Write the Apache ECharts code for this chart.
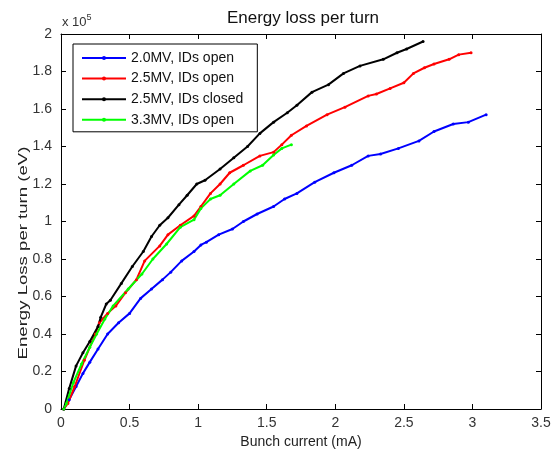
<!DOCTYPE html>
<html><head><meta charset="utf-8">
<script src="https://cdn.jsdelivr.net/npm/echarts@6/dist/echarts.min.js"></script>
<style>html,body{margin:0;padding:0;background:#fff}#c{width:557px;height:454px}</style>
</head><body><div id="c"></div>
<script>
// Values: x = bunch current (mA), y = energy loss per turn (x 1e5 eV)
const seriesNames = ["2.0MV, IDs open", "2.5MV, IDs open", "2.5MV, IDs closed", "3.3MV, IDs open"];
const blue20open = [[0.02,0],[0.06,0.05],[0.11,0.12],[0.16,0.19],[0.21,0.25],[0.27,0.32],[0.34,0.40],[0.42,0.46],[0.50,0.51],[0.58,0.59],[0.66,0.64],[0.74,0.69],[0.80,0.73],[0.88,0.79],[0.97,0.84],[1.02,0.875],[1.06,0.89],[1.15,0.93],[1.25,0.96],[1.33,1.00],[1.43,1.04],[1.55,1.08],[1.63,1.12],[1.72,1.15],[1.85,1.21],[1.99,1.26],[2.12,1.30],[2.24,1.35],[2.33,1.36],[2.46,1.39],[2.61,1.43],[2.72,1.48],[2.86,1.52],[2.97,1.53],[3.10,1.57]];
const red25open = [[0.02,0],[0.05,0.03],[0.10,0.12],[0.17,0.26],[0.25,0.40],[0.28,0.46],[0.34,0.51],[0.40,0.55],[0.47,0.62],[0.55,0.69],[0.61,0.79],[0.72,0.87],[0.78,0.93],[0.87,0.98],[0.97,1.03],[1.02,1.08],[1.09,1.15],[1.16,1.20],[1.23,1.26],[1.33,1.30],[1.45,1.35],[1.55,1.37],[1.61,1.41],[1.68,1.46],[1.79,1.51],[1.94,1.57],[2.07,1.61],[2.24,1.67],[2.30,1.68],[2.40,1.71],[2.50,1.74],[2.57,1.79],[2.65,1.82],[2.72,1.84],[2.83,1.865],[2.90,1.89],[2.99,1.90]];
const black25closed = [[0.02,0],[0.06,0.11],[0.11,0.23],[0.16,0.30],[0.21,0.36],[0.27,0.44],[0.29,0.49],[0.33,0.56],[0.36,0.58],[0.44,0.67],[0.52,0.76],[0.60,0.84],[0.66,0.92],[0.72,0.98],[0.78,1.02],[0.86,1.09],[0.92,1.14],[0.99,1.20],[1.05,1.22],[1.16,1.28],[1.26,1.34],[1.36,1.40],[1.45,1.47],[1.55,1.53],[1.65,1.58],[1.72,1.62],[1.83,1.69],[1.95,1.73],[2.06,1.79],[2.18,1.83],[2.35,1.865],[2.45,1.90],[2.52,1.92],[2.64,1.96]];
const green33open = [[0.02,0],[0.04,0.03],[0.09,0.14],[0.15,0.24],[0.21,0.33],[0.26,0.40],[0.32,0.48],[0.38,0.55],[0.49,0.64],[0.59,0.72],[0.67,0.80],[0.77,0.88],[0.87,0.97],[0.97,1.01],[1.02,1.07],[1.09,1.12],[1.16,1.14],[1.26,1.20],[1.38,1.27],[1.47,1.30],[1.55,1.355],[1.61,1.39],[1.68,1.41]];
const seriesColors = ["#0000ff", "#ff0000", "#000000", "#00ff00"];
const seriesData = [blue20open, red25open, black25closed, green33open];

const chart = echarts.init(document.getElementById('c'), null, {renderer: 'canvas'});
const font = 'Liberation Sans, Arial, sans-serif';
function axisCommon() {
  return {
    axisLine: {show: true, onZero: false, lineStyle: {color: '#000', width: 1}},
    axisTick: {show: true, inside: true, length: 5, lineStyle: {color: '#000'}},
    splitLine: {show: false}
  };
}
chart.setOption({
  animation: false,
  backgroundColor: '#fff',
  title: {text: 'Energy loss per turn', left: 298, textAlign: 'center', top: 5,
    textStyle: {fontFamily: font, fontSize: 17, fontWeight: 'normal', color: '#111'}},
  grid: {left: 61, right: 16, top: 34, bottom: 45},
  legend: {
    left: 73, top: 44, orient: 'vertical', itemWidth: 44, itemHeight: 5, itemGap: 4.6,
    padding: [6, 14, 4, 8], backgroundColor: '#fff', borderColor: '#000', borderWidth: 1,
    textStyle: {fontFamily: font, fontSize: 14, lineHeight: 16, color: '#111'},
    data: seriesNames
  },
  xAxis: [
    Object.assign({type: 'value', min: 0, max: 3.5, interval: 0.5, position: 'bottom',
      name: 'Bunch current (mA)', nameLocation: 'middle', nameGap: 26,
      nameTextStyle: {fontFamily: font, fontSize: 14, color: '#222'},
      axisLabel: {fontFamily: font, fontSize: 14, color: '#333', margin: 7}}, axisCommon()),
    Object.assign({type: 'value', min: 0, max: 3.5, interval: 0.5, position: 'top',
      axisLabel: {show: false}}, axisCommon())
  ],
  yAxis: [
    Object.assign({type: 'value', min: 0, max: 2, interval: 0.2, position: 'left',
      axisLabel: {fontFamily: font, fontSize: 14, color: '#333', margin: 9}}, axisCommon()),
    Object.assign({type: 'value', min: 0, max: 2, interval: 0.2, position: 'right',
      axisLabel: {show: false}}, axisCommon())
  ],
  graphic: [{
    type: 'text', left: 62, top: 13,
    style: {text: '{a|x 10}{b|5}', rich: {
      a: {fontFamily: font, fontSize: 13, fill: '#333'},
      b: {fontFamily: font, fontSize: 9, fill: '#333', verticalAlign: 'top', padding: [0, 0, 9, 0]}
    }}
  }, {
    type: 'text', x: 23, y: 253, rotation: Math.PI / 2, scaleX: 1.43, scaleY: 1,
    style: {text: 'Energy Loss per turn (eV)', fontFamily: font, fontSize: 13, fill: '#222',
      align: 'center', verticalAlign: 'middle'}
  }],
  series: seriesData.map((d, i) => ({
    name: seriesNames[i], type: 'line', data: d, xAxisIndex: 0, yAxisIndex: 0,
    symbol: 'circle', symbolSize: 3, showSymbol: true,
    lineStyle: {color: seriesColors[i], width: 2},
    itemStyle: {color: seriesColors[i]}
  }))
});
</script></body></html>
